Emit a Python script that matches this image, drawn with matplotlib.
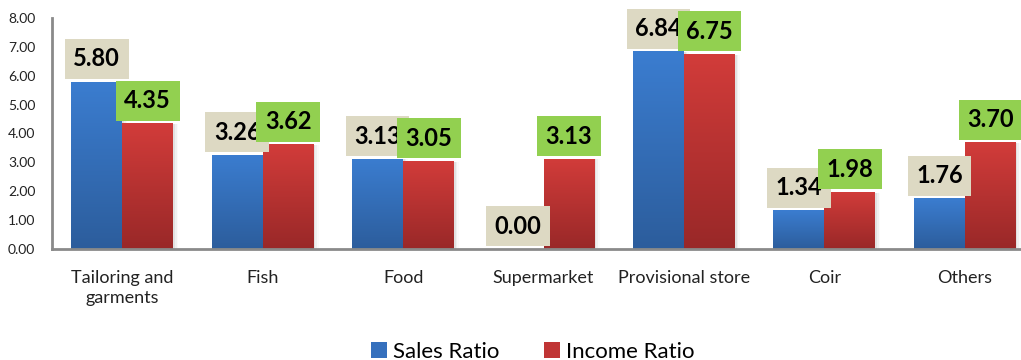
import numpy as np
import matplotlib
matplotlib.use("Agg")
import matplotlib.pyplot as plt
from matplotlib.patches import Rectangle
from matplotlib.colors import LinearSegmentedColormap

categories = ["Tailoring and\ngarments", "Fish", "Food", "Supermarket",
              "Provisional store", "Coir", "Others"]
sales_ratio = [5.80, 3.26, 3.13, 0.00, 6.84, 1.34, 1.76]
income_ratio = [4.35, 3.62, 3.05, 3.13, 6.75, 1.98, 3.70]
yticks = [0, 1, 2, 3, 4, 5, 6, 7, 8]

plt.rcParams['font.family'] = ['Lato', 'DejaVu Sans']

fig = plt.figure(figsize=(10.21, 3.60), dpi=100)
ax = fig.add_axes([52 / 1021, 111 / 360, 1 - 52 / 1021, 231 / 360])

x = np.arange(len(categories))
bw = 0.363

blue_cmap = LinearSegmentedColormap.from_list("b", ["#2c5d9c", "#3b7dd0"])
red_cmap = LinearSegmentedColormap.from_list("r", ["#992828", "#d23c3a"])


def gradient_bar(xc, h, cmap):
    if h <= 0:
        return
    # soft shadow
    for i, a in enumerate([0.06, 0.04, 0.02]):
        sh = Rectangle((xc - bw / 2 + 0.012 * (i + 1), 0), bw, h - 0.03,
                       facecolor="black", alpha=a, edgecolor="none", zorder=1)
        ax.add_patch(sh)
    rect = Rectangle((xc - bw / 2, 0), bw, h, facecolor="none",
                     edgecolor="none", zorder=2)
    ax.add_patch(rect)
    grad = np.linspace(0, 1, 256).reshape(-1, 1)
    im = ax.imshow(grad, cmap=cmap, origin="lower", aspect="auto",
                   extent=(xc - bw / 2, xc + bw / 2, 0, h), zorder=2)
    im.set_clip_path(rect)


def value_box(xc, h, color):
    ax.annotate(f"{h:.2f}", xy=(xc, h), xytext=(0, 8), textcoords="offset points",
                ha="center", va="bottom", fontsize=17, fontweight="bold",
                color="black", zorder=5,
                bbox=dict(boxstyle="square,pad=0.36", facecolor=color,
                          edgecolor="none"))


for i in range(len(categories)):
    gradient_bar(x[i] - bw / 2, sales_ratio[i], blue_cmap)
    gradient_bar(x[i] + bw / 2, income_ratio[i], red_cmap)

for i in range(len(categories)):
    value_box(x[i] - bw / 2, sales_ratio[i], "#ddd9c3")
    value_box(x[i] + bw / 2, income_ratio[i], "#92d050")

ax.set_xlim(-0.5, 6.4)
ax.set_ylim(0, 8)
ax.set_yticks(yticks)
ax.set_yticklabels([f"{v:.2f}" for v in yticks], fontsize=10)
ax.set_xticks(x)
ax.set_xticklabels(categories, fontsize=13, linespacing=1.35)
ax.tick_params(axis="both", length=0, colors="#222222")
ax.tick_params(axis="y", pad=12)
ax.tick_params(axis="x", pad=15)
for side in ["top", "right"]:
    ax.spines[side].set_visible(False)
for side in ["left", "bottom"]:
    ax.spines[side].set_color("#8a8a8a")
    ax.spines[side].set_linewidth(2)

handles = [Rectangle((0, 0), 1, 1, facecolor="#3570bd"),
           Rectangle((0, 0), 1, 1, facecolor="#c03535")]
fig.legend(handles, ["Sales Ratio", "Income Ratio"], loc="lower center",
           bbox_to_anchor=(0.522, -0.06), ncol=2, frameon=False, fontsize=16,
           handlelength=0.7, handleheight=0.7, handletextpad=0.3,
           columnspacing=2.0)

fig.savefig("out.png", dpi=100)
